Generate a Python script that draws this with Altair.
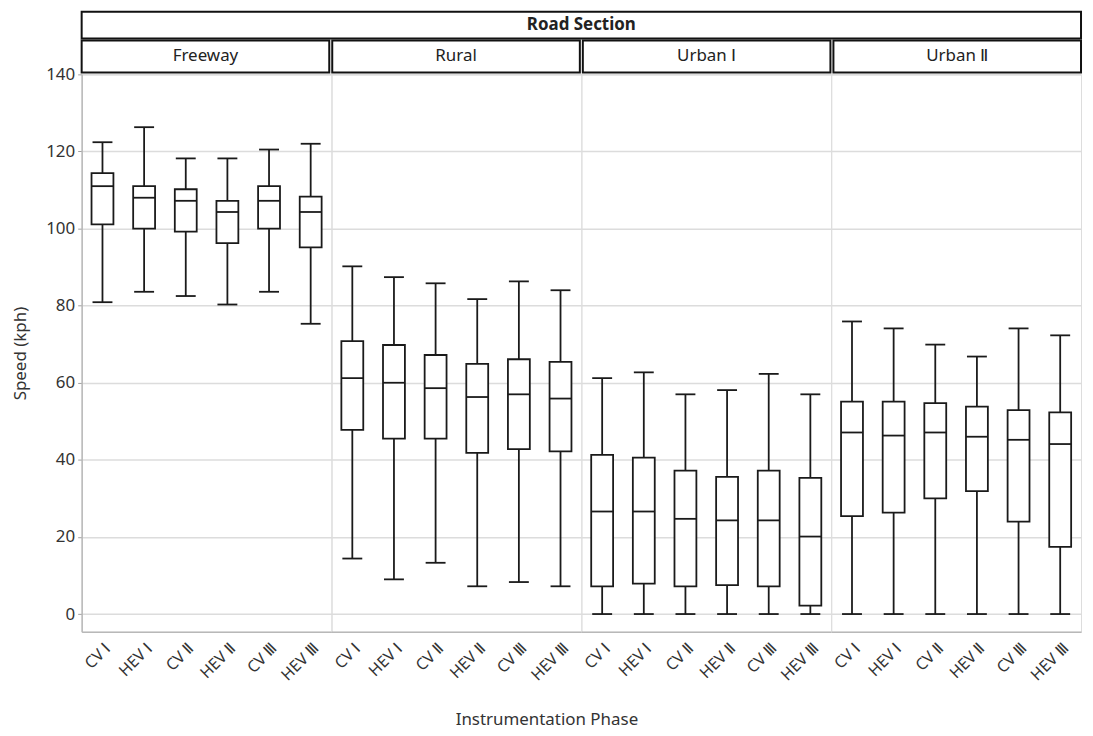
import altair as alt
import pandas as pd

sections = ["Freeway", "Rural", "Urban Ⅰ", "Urban Ⅱ"]
phases = ["CV Ⅰ", "HEV Ⅰ", "CV Ⅱ", "HEV Ⅱ", "CV Ⅲ", "HEV Ⅲ"]

# Box statistics (kph), one list per section, order = phases
freeway_low = [80.9, 83.6, 82.5, 80.3, 83.6, 75.3]
freeway_q1 = [101.1, 100.0, 99.2, 96.2, 100.0, 95.1]
freeway_med = [111.0, 108.0, 107.2, 104.3, 107.2, 104.3]
freeway_q3 = [114.4, 111.0, 110.2, 107.2, 111.0, 108.3]
freeway_high = [122.4, 126.3, 118.2, 118.2, 120.5, 122.0]

rural_low = [14.4, 9.0, 13.3, 7.2, 8.3, 7.2]
rural_q1 = [47.8, 45.5, 45.5, 41.8, 42.8, 42.2]
rural_med = [61.2, 60.0, 58.6, 56.3, 57.0, 55.9]
rural_q3 = [70.8, 69.8, 67.2, 64.9, 66.1, 65.4]
rural_high = [90.2, 87.4, 85.8, 81.7, 86.3, 84.0]

urban1_low = [0.0, 0.0, 0.0, 0.0, 0.0, 0.0]
urban1_q1 = [7.2, 7.9, 7.2, 7.5, 7.2, 2.2]
urban1_med = [26.6, 26.6, 24.7, 24.3, 24.3, 20.1]
urban1_q3 = [41.3, 40.6, 37.2, 35.6, 37.2, 35.3]
urban1_high = [61.2, 62.7, 57.0, 58.1, 62.3, 57.0]

urban2_low = [0.0, 0.0, 0.0, 0.0, 0.0, 0.0]
urban2_q1 = [25.4, 26.3, 30.0, 31.9, 24.0, 17.4]
urban2_med = [47.1, 46.3, 47.1, 46.0, 45.2, 44.1]
urban2_q3 = [55.1, 55.1, 54.7, 53.8, 52.9, 52.3]
urban2_high = [75.9, 74.1, 69.9, 66.8, 74.1, 72.3]

stats = {
    "Freeway": (freeway_low, freeway_q1, freeway_med, freeway_q3, freeway_high),
    "Rural": (rural_low, rural_q1, rural_med, rural_q3, rural_high),
    "Urban Ⅰ": (urban1_low, urban1_q1, urban1_med, urban1_q3, urban1_high),
    "Urban Ⅱ": (urban2_low, urban2_q1, urban2_med, urban2_q3, urban2_high),
}

rows = []
for sec in sections:
    lo, q1, md, q3, hi = stats[sec]
    for i, ph in enumerate(phases):
        rows.append(dict(section=sec, phase=ph, low=lo[i], q1=q1[i], med=md[i], q3=q3[i], high=hi[i]))
df = pd.DataFrame(rows)

FONT = "Noto Sans"
INK = "#1a1a1a"
TXT = "#333333"
PW = 251
PH = 560
TOTAL = 4 * PW
GAP = 3
tick_values = list(range(0, 141, 10))
grid_cond = {"condition": {"test": "datum.value % 20 === 0", "value": 1}, "value": 0}


def panel(sec, first):
    d = df[df.section == sec]
    base = alt.Chart(d)
    x = alt.X(
        "phase:N",
        sort=phases,
        scale=alt.Scale(paddingInner=0, paddingOuter=0),
        axis=alt.Axis(
            title=None, labelAngle=-45, labelFontSize=16, labelColor=TXT,
            labelFont=FONT, ticks=False, domainColor="#b8b8b8", domainWidth=1.5,
            labelPadding=8, grid=False,
        ),
    )
    if first:
        yaxis = alt.Axis(
            title="Speed (kph)", titleFontSize=17, titleFontWeight="normal",
            titleColor=TXT, titleFont=FONT, titlePadding=16,
            values=tick_values,
            labelExpr="datum.value % 20 === 0 ? datum.label : ''",
            labelFontSize=17, labelColor=TXT, labelFont=FONT, labelPadding=3,
            tickColor="#a0a0a0", tickSize=4, domainColor="#b8b8b8", domainWidth=1.5,
            gridColor="#dcdcdc", gridOpacity=grid_cond, gridWidth=1.5,
        )
    else:
        yaxis = alt.Axis(
            title=None, labels=False, ticks=False, domain=False,
            values=tick_values,
            gridColor="#dcdcdc", gridOpacity=grid_cond, gridWidth=1.5,
        )
    yscale = alt.Scale(domain=[-4.6, 140], nice=False, zero=False)
    whisker = base.mark_rule(color=INK, strokeWidth=1.8).encode(
        x=x, y=alt.Y("low:Q", scale=yscale, axis=yaxis), y2="high:Q"
    )
    box = base.mark_bar(size=22, fill="white", stroke=INK, strokeWidth=1.8).encode(
        x=x, y="q1:Q", y2="q3:Q"
    )
    median = base.mark_tick(size=22, thickness=1.8, color=INK, opacity=1).encode(x=x, y="med:Q")
    cap_lo = base.mark_tick(size=20, thickness=1.8, color=INK, opacity=1).encode(x=x, y="low:Q")
    cap_hi = base.mark_tick(size=20, thickness=1.8, color=INK, opacity=1).encode(x=x, y="high:Q")
    return alt.layer(whisker, box, median, cap_lo, cap_hi).properties(width=PW, height=PH)


# "Road Section" strip
road = alt.Chart(pd.DataFrame({"t": ["Road Section"]})).mark_text(
    fontSize=17, font=FONT, color="#222", fontWeight="bold"
).encode(text="t:N").properties(
    width=TOTAL, height=27, view=alt.ViewBackground(stroke="#111", strokeWidth=2)
)

# section strips
p_in = 4 * GAP / (TOTAL + GAP)
hx = alt.X("section:N", sort=sections, axis=None,
           scale=alt.Scale(paddingInner=p_in, paddingOuter=0))
hbase = alt.Chart(pd.DataFrame({"section": sections}))
heads = alt.layer(
    hbase.mark_rect(fill="white", stroke="#111", strokeWidth=2).encode(x=hx),
    hbase.mark_text(fontSize=17, font=FONT, color="#222").encode(x=hx, text="section:N"),
).properties(width=TOTAL, height=32, view=alt.ViewBackground(stroke="transparent"))

plots = alt.hconcat(*[panel(sec, i == 0) for i, sec in enumerate(sections)], spacing=0, bounds="flush")

chart = alt.vconcat(road, heads, plots, spacing=2, bounds="flush").properties(
    title=alt.TitleParams(
        "Instrumentation Phase", orient="bottom", anchor="middle", fontSize=17,
        fontWeight="normal", color=TXT, font=FONT, offset=29,
    ),
    padding={"left": 3, "top": 1, "right": 2, "bottom": 2},
).configure_view(stroke="#d4d4d4", strokeWidth=1.5).configure(font=FONT)

chart.save("out.html", embed_options={"renderer": "svg", "actions": False})
